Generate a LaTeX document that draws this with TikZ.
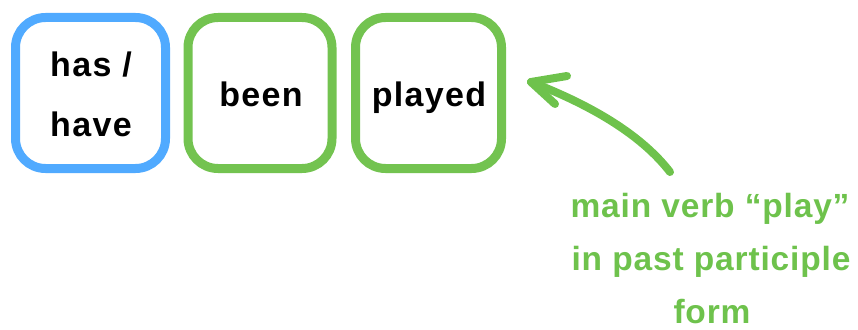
\documentclass[tikz,border=0pt]{standalone}
\usepackage{fontspec}
\setmainfont{Liberation Sans}
\newfontfamily\wordfont[LetterSpace=4]{Liberation Sans Bold}
\newfontfamily\notefont[LetterSpace=2.5]{Liberation Sans Bold}
\definecolor{auxblue}{RGB}{80,170,255}
\definecolor{verbgreen}{RGB}{115,195,80}
\definecolor{notegreen}{RGB}{110,194,76}
\begin{document}
\begin{tikzpicture}[x=1pt,y=-1pt,
  wordbox/.style={draw, line width=9pt, rounded corners=30pt,
    minimum height=151pt, inner sep=0pt},
  word/.style={anchor=base, font=\wordfont\fontsize{34}{38}\selectfont, inner sep=0pt},
  note/.style={anchor=base, font=\notefont\fontsize{33.5}{38}\selectfont,
    text=notegreen, inner sep=0pt},
  curvy/.style={draw=notegreen, line width=8pt, line cap=round, line join=round}]
\useasboundingbox (0,0) rectangle (858,329);
% auxiliary and verb boxes
\node[wordbox, draw=auxblue, minimum width=150pt] (aux) at (90.5,93) {};
\node[wordbox, draw=verbgreen, minimum width=144pt] (been) at (260,93) {};
\node[wordbox, draw=verbgreen, minimum width=146pt] (pp) at (428.5,93) {};
% words inside the boxes
\node[word] (w1) at (91,76) {has /};
\node[word] (w2) at (91,136) {have};
\node[word] (w3) at (261,106) {been};
\node[word] (w4) at (429,106) {played};
% note
\node[note] (n1) at (710,217) {main verb “play”};
\node[note] (n2) at (711,270) {in past participle};
\node[note, text depth=0pt] (n3) at (712,323) {form};
% curved pointer to the participle
\coordinate (tail) at (670,172);
\coordinate (tip) at (531,82);
\coordinate (barbA) at (567,76);
\coordinate (barbB) at (555,104);
\path[curvy] (tail) .. controls (643,137) and (596,107) .. (tip);
\path[curvy] (barbA) -- (tip) -- (barbB);
\end{tikzpicture}
\end{document}
